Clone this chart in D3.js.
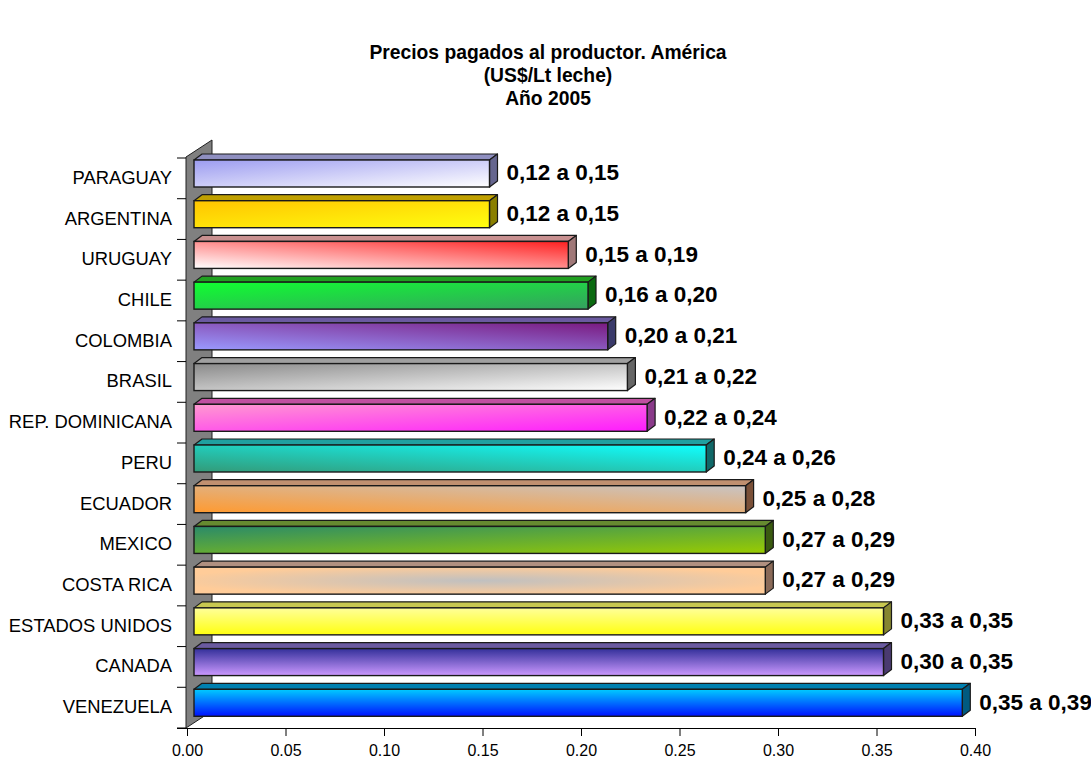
<!DOCTYPE html>
<html>
<head>
<meta charset="utf-8">
<script src="https://cdn.jsdelivr.net/npm/d3@7"></script>
<style>
  body { margin: 0; background: #ffffff; }
  text { font-family: Arial, "Liberation Sans", sans-serif; fill: #000; }
</style>
</head>
<body>
<svg id="chart" width="1091" height="761"></svg>
<script>
// data
const paises = ["PARAGUAY", "ARGENTINA", "URUGUAY", "CHILE", "COLOMBIA", "BRASIL",
  "REP. DOMINICANA", "PERU", "ECUADOR", "MEXICO", "COSTA RICA", "ESTADOS UNIDOS", "CANADA", "VENEZUELA"];
const precioMax = [0.15, 0.15, 0.19, 0.20, 0.21, 0.22, 0.23, 0.26, 0.28, 0.29, 0.29, 0.35, 0.35, 0.39];
const rangos = ["0,12 a 0,15", "0,12 a 0,15", "0,15 a 0,19", "0,16 a 0,20", "0,20 a 0,21", "0,21 a 0,22",
  "0,22 a 0,24", "0,24 a 0,26", "0,25 a 0,28", "0,27 a 0,29", "0,27 a 0,29", "0,33 a 0,35", "0,30 a 0,35", "0,35 a 0,39"];
const ticksX = [0, 0.05, 0.10, 0.15, 0.20, 0.25, 0.30, 0.35, 0.40];
const titulo = ["Precios pagados al productor. América", "(US$/Lt leche)", "Año 2005"];

// fill of each bar: gradient a -> b, its direction, side and top colours
const estilos = [
  {a: "#9c9cf0", b: "#ffffff", dir: "diag",   side: "#66668f", top: "#8f8fc0"},
  {a: "#ffc400", b: "#ffff10", dir: "diag",   side: "#8a7f00", top: "#c0a000"},
  {a: "#ffffff", b: "#ff2020", dir: "diagUp", side: "#a07878", top: "#c89090"},
  {a: "#10ff30", b: "#35a060", dir: "diag",   side: "#0b6a10", top: "#20a020"},
  {a: "#9a9aff", b: "#7a1a80", dir: "diagUp", side: "#3a3a6a", top: "#6a5aa0"},
  {a: "#8a8a8a", b: "#ffffff", dir: "diag",   side: "#666666", top: "#a0a0a0"},
  {a: "#ff9ad0", b: "#ff1aff", dir: "diag",   side: "#8a3a8a", top: "#c050a0"},
  {a: "#339a78", b: "#10ffff", dir: "diagUp", side: "#106868", top: "#20a0a0"},
  {a: "#ff9a30", b: "#c8c4c4", dir: "diagUp", side: "#7a5038", top: "#c09070"},
  {a: "#2a8a6a", b: "#9acc00", dir: "diag",   side: "#3a5a10", top: "#668a30"},
  {a: "#c0c0c0", b: "#ffcc99", dir: "radial", side: "#8a6a58", top: "#b09080"},
  {a: "#ffff9a", b: "#ffff10", dir: "vert",   side: "#868630", top: "#c8c850"},
  {a: "#33309a", b: "#cc99ff", dir: "vert",   side: "#4a3a70", top: "#6a5aa0"},
  {a: "#00ccff", b: "#0010ff", dir: "vert",   side: "#005a80", top: "#0080b0"}
];

const svg = d3.select("#chart");
const defs = svg.append("defs");

const x = d3.scaleLinear().domain([0, 0.4]).range([187, 975]);
const y = d3.scaleBand().domain(paises).range([158, 728]);

const dx = 8, dy = -6;     // bar depth
const off = 7;             // front face shifted right of the axis
const h = 27;              // front face height

const filas = paises.map((p, i) => ({pais: p, v: precioMax[i], txt: rangos[i], est: estilos[i], i: i}));

// gradients
filas.forEach(d => {
  let g;
  if (d.est.dir === "radial") {
    g = defs.append("radialGradient").attr("id", "g" + d.i)
      .attr("cx", 0.5).attr("cy", 0.5).attr("r", 0.55);
  } else {
    g = defs.append("linearGradient").attr("id", "g" + d.i);
    if (d.est.dir === "diag") g.attr("x1", 0).attr("y1", 0).attr("x2", 1).attr("y2", 1);
    if (d.est.dir === "diagUp") g.attr("x1", 0).attr("y1", 1).attr("x2", 1).attr("y2", 0);
    if (d.est.dir === "vert") g.attr("x1", 0).attr("y1", 0).attr("x2", 0).attr("y2", 1);
  }
  g.append("stop").attr("offset", "0%").attr("stop-color", d.est.a);
  g.append("stop").attr("offset", "100%").attr("stop-color", d.est.b);
});

// title
svg.selectAll("text.titulo").data(titulo).join("text")
  .attr("class", "titulo")
  .attr("x", 548).attr("y", (d, i) => 52 + i * 23)
  .attr("dy", "0.35em")
  .attr("text-anchor", "middle")
  .style("font-weight", "bold").style("font-size", "19.3px")
  .text(d => d);

// left wall
const y0 = y.range()[0], y1 = y.range()[1];
svg.append("polygon")
  .attr("points", [[x(0) - 1, y0 - 1], [x(0) + 25, y0 - 18], [x(0) + 25, y1 - 17], [x(0) - 1, y1]].join(" "))
  .attr("fill", "#808080").attr("stroke", "#202020").attr("stroke-width", 1);

// category ticks on the left
const bordes = paises.map(p => y(p)).concat([y1]);
svg.selectAll("line.ty").data(bordes).join("line")
  .attr("class", "ty")
  .attr("x1", x(0) - 10).attr("x2", x(0) - 1)
  .attr("y1", d => d).attr("y2", d => d)
  .attr("stroke", "#000").attr("stroke-width", 1);

// x axis
const xg = svg.append("g").attr("transform", `translate(0,${y1})`);
xg.call(d3.axisBottom(x).tickValues(ticksX).tickFormat(d3.format(".2f")).tickSize(8).tickPadding(9));
xg.select(".domain").attr("d", `M${x(0) - 10},0.5H${x(0.4)}`);
xg.selectAll("text").style("font-size", "16px").style("font-family", "Arial, 'Liberation Sans', sans-serif");

// bars
const barras = svg.selectAll("g.barra").data(filas).join("g").attr("class", "barra");

barras.each(function (d) {
  const g = d3.select(this);
  const xa = x(0) + off, xb = x(d.v) + off;
  const ya = y(d.pais) + 2;
  const borde = "#1a1a1a";
  const techo = [[xa, ya], [xa + dx, ya + dy], [xb + dx, ya + dy], [xb, ya]];
  g.append("polygon").attr("points", techo.join(" ")).attr("fill", d.est.top)
    .attr("stroke", borde).attr("stroke-width", 1.2).attr("stroke-linejoin", "round");
  g.append("polygon").attr("points", [[xb, ya], [xb + dx, ya + dy], [xb + dx, ya + h + dy], [xb, ya + h]].join(" "))
    .attr("fill", d.est.side).attr("stroke", borde).attr("stroke-width", 1.2).attr("stroke-linejoin", "round");
  g.append("rect").attr("x", xa).attr("y", ya).attr("width", xb - xa).attr("height", h)
    .attr("fill", `url(#g${d.i})`).attr("stroke", borde).attr("stroke-width", 1.4);
});

// category labels
svg.selectAll("text.pais").data(filas).join("text")
  .attr("class", "pais")
  .attr("x", 172).attr("y", d => y(d.pais) + y.bandwidth() / 2 - 1)
  .attr("dy", "0.35em").attr("text-anchor", "end")
  .style("font-size", "18.4px")
  .text(d => d.pais);

// value labels
svg.selectAll("text.valor").data(filas).join("text")
  .attr("class", "valor")
  .attr("x", d => x(d.v) + off + dx + 9)
  .attr("y", d => y(d.pais) + y.bandwidth() / 2 - 6)
  .attr("dy", "0.35em")
  .style("font-weight", "bold").style("font-size", "22.5px")
  .text(d => d.txt);
</script>
</body>
</html>
